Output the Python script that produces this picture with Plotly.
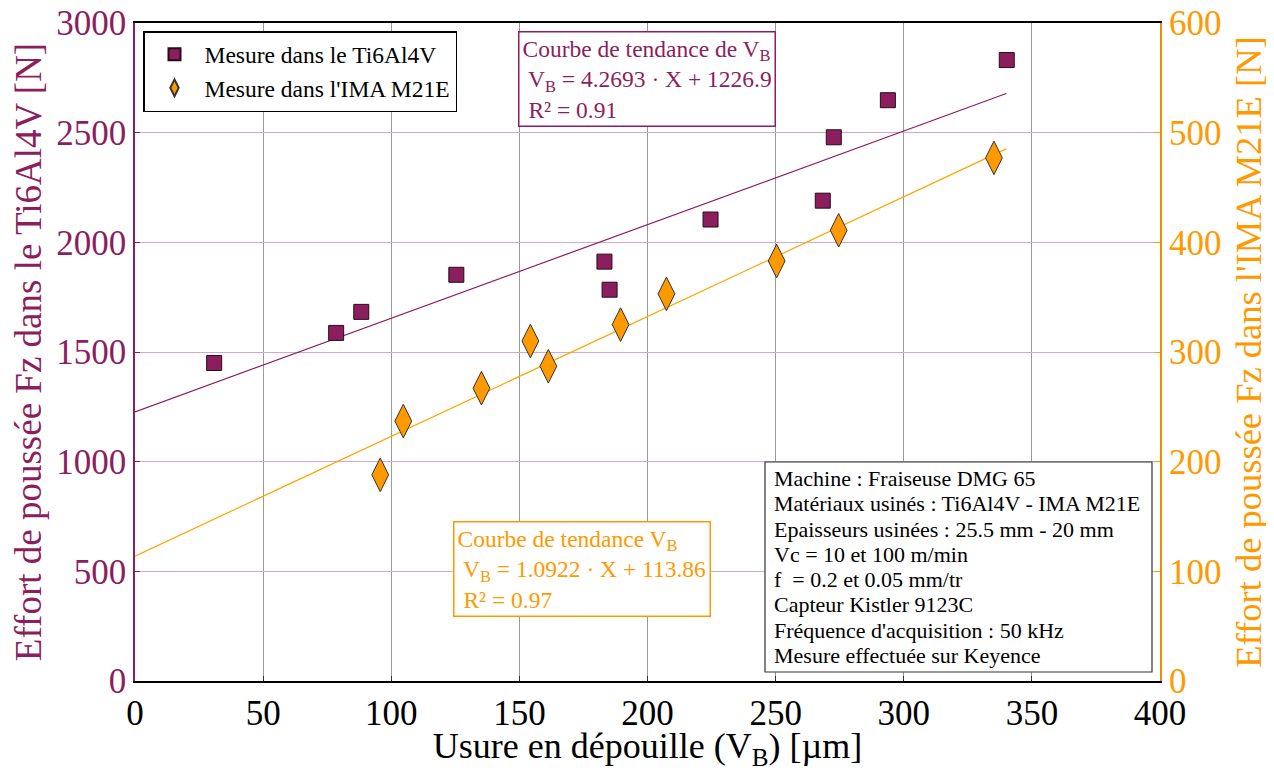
import plotly.graph_objects as go

# Ti6Al4V measurements (left axis)
ti_vb = [30.9, 78.5, 88.3, 125.4, 183.2, 185.2, 224.6, 268.4, 272.7, 293.8, 340.2]
ti_fz = [1450, 1587, 1683, 1852, 1912, 1784, 2104, 2190, 2479, 2648, 2831]

# IMA M21E measurements (right axis)
ima_vb = [95.7, 104.7, 135.2, 154.3, 161.3, 189.5, 207.4, 250.4, 274.6, 335.2]
ima_fz = [188, 237, 267, 310, 287, 325, 353, 383, 411, 477]

# Trend-line coefficients (slope, intercept) and x-range
ti_fit = (4.2693, 1226.9)
ima_fit = (1.0922, 113.86)
fit_x = [0, 340]

x_ticks = [0, 50, 100, 150, 200, 250, 300, 350, 400]
y_ticks = [0, 500, 1000, 1500, 2000, 2500, 3000]
y2_ticks = [0, 100, 200, 300, 400, 500, 600]

info_lines = [
    "Machine : Fraiseuse DMG 65",
    "Matériaux usinés : Ti6Al4V - IMA M21E",
    "Epaisseurs usinées : 25.5 mm - 20 mm",
    "Vc = 10 et 100 m/min",
    "f  = 0.2 et 0.05 mm/tr",
    "Capteur Kistler 9123C",
    "Fréquence d'acquisition : 50 kHz",
    "Mesure effectuée sur Keyence",
]

PURPLE = "#8B1F5E"
ORANGE = "#FF9900"
FONT = "Liberation Serif"

# page offset of the figure (default body margin) and plot-area geometry (page px)
OFF = 8
PAGE_W, PAGE_H = 1274, 771
L, R, T, B = 135, 1160, 23, 681
W, H = R - L, B - T


def px(xp):
    return (xp - L) / W


def py(yp):
    return (B - yp) / H


fig = go.Figure()

fig.add_trace(go.Scatter(
    x=fit_x, y=[ti_fit[0] * v + ti_fit[1] for v in fit_x],
    mode="lines", line=dict(color=PURPLE, width=1.2), showlegend=False, hoverinfo="skip"))
fig.add_trace(go.Scatter(
    x=fit_x, y=[ima_fit[0] * v + ima_fit[1] for v in fit_x], yaxis="y2",
    mode="lines", line=dict(color="#FFA500", width=1.2), showlegend=False, hoverinfo="skip"))

fig.add_trace(go.Scatter(
    x=ti_vb, y=ti_fz, mode="markers", name="Mesure dans le Ti6Al4V",
    marker=dict(symbol="square", size=15, color=PURPLE, line=dict(color="#2a0a1a", width=1))))
fig.add_trace(go.Scatter(
    x=ima_vb, y=ima_fz, mode="markers", name="Mesure dans l'IMA M21E", yaxis="y2",
    marker=dict(symbol="diamond-tall", size=24, color=ORANGE, line=dict(color="#333", width=1))))

fig.update_layout(
    width=PAGE_W - OFF, height=PAGE_H - OFF,
    margin=dict(l=L - OFF, r=PAGE_W - R, t=T - OFF, b=PAGE_H - B),
    paper_bgcolor="white", plot_bgcolor="white",
    font=dict(family=FONT, size=18, color="black"),
    xaxis=dict(
        range=[0, 400], tickvals=x_ticks, ticks="inside", ticklen=5, tickcolor="#333",
        showgrid=True, gridcolor="#9a9a9a", gridwidth=1,
        showline=True, linecolor="black", linewidth=2, mirror=True,
        tickfont=dict(size=35, color="black", family=FONT), ticklabeloverflow="allow",
        title=dict(text="Usure en dépouille (V<sub>B</sub>) [µm]",
                   font=dict(size=36, color="black", family=FONT)),
        automargin=False, zeroline=False),
    yaxis=dict(
        range=[0, 3000], tickvals=y_ticks, ticks="inside", ticklen=5, tickcolor=PURPLE,
        showgrid=True, gridcolor="#D9A6C4", gridwidth=1,
        showline=True, linecolor=PURPLE, linewidth=1.5,
        tickfont=dict(size=35, color=PURPLE, family=FONT), ticklabeloverflow="allow",
        title=dict(text="Effort de poussée Fz dans le Ti6Al4V [N]",
                   font=dict(size=37, color=PURPLE, family=FONT)),
        automargin=False, zeroline=False),
    yaxis2=dict(
        range=[0, 600], tickvals=y2_ticks, overlaying="y", side="right",
        ticks="inside", ticklen=5, tickcolor=ORANGE,
        showgrid=False, showline=True, linecolor="#F08C00", linewidth=2,
        tickfont=dict(size=35, color=ORANGE, family=FONT), ticklabeloverflow="allow",
        title=dict(text="Effort de poussée Fz dans l'IMA M21E [N]",
                   font=dict(size=36.5, color=ORANGE, family=FONT)),
        automargin=False, zeroline=False),
    legend=dict(
        x=px(143), y=py(31), xanchor="left", yanchor="top",
        bgcolor="white", bordercolor="black", borderwidth=1.5,
        font=dict(size=23.5, family=FONT, color="black"), itemsizing="constant",
        itemwidth=50),
)

fig.add_annotation(
    xref="paper", yref="paper", x=px(518), y=py(31),
    xanchor="left", yanchor="top", align="left", showarrow=False,
    text=("Courbe de tendance de V<sub>B</sub><br>"
          " V<sub>B</sub> = %s · X + %s<br> R² = 0.91" % (ti_fit[0], ti_fit[1])),
    font=dict(size=23.5, color=PURPLE, family=FONT),
    bgcolor="white", bordercolor=PURPLE, borderwidth=1.5, borderpad=3)

fig.add_annotation(
    xref="paper", yref="paper", x=px(453), y=py(521),
    xanchor="left", yanchor="top", align="left", showarrow=False,
    text=("Courbe de tendance V<sub>B</sub><br>"
          " V<sub>B</sub> = %s · X + %s<br> R² = 0.97" % (ima_fit[0], ima_fit[1])),
    font=dict(size=23.5, color=ORANGE, family=FONT),
    bgcolor="white", bordercolor=ORANGE, borderwidth=1.5, borderpad=3)

# information box: frame + one text line each
box_l, box_t, box_r, box_b = 765, 462, 1152, 672
fig.add_shape(type="rect", xref="paper", yref="paper",
              x0=px(box_l), x1=px(box_r), y0=py(box_b), y1=py(box_t),
              line=dict(color="#333", width=1.2), fillcolor="white", layer="above")
line_step = (box_b - box_t - 8) / len(info_lines)
for i, txt in enumerate(info_lines):
    fig.add_annotation(
        xref="paper", yref="paper", x=px(box_l + 7), y=py(box_t + 4 + line_step * (i + 0.5)),
        xanchor="left", yanchor="middle", align="left", showarrow=False,
        text=txt, font=dict(size=22, color="black", family=FONT))

fig.write_html("out.html")
